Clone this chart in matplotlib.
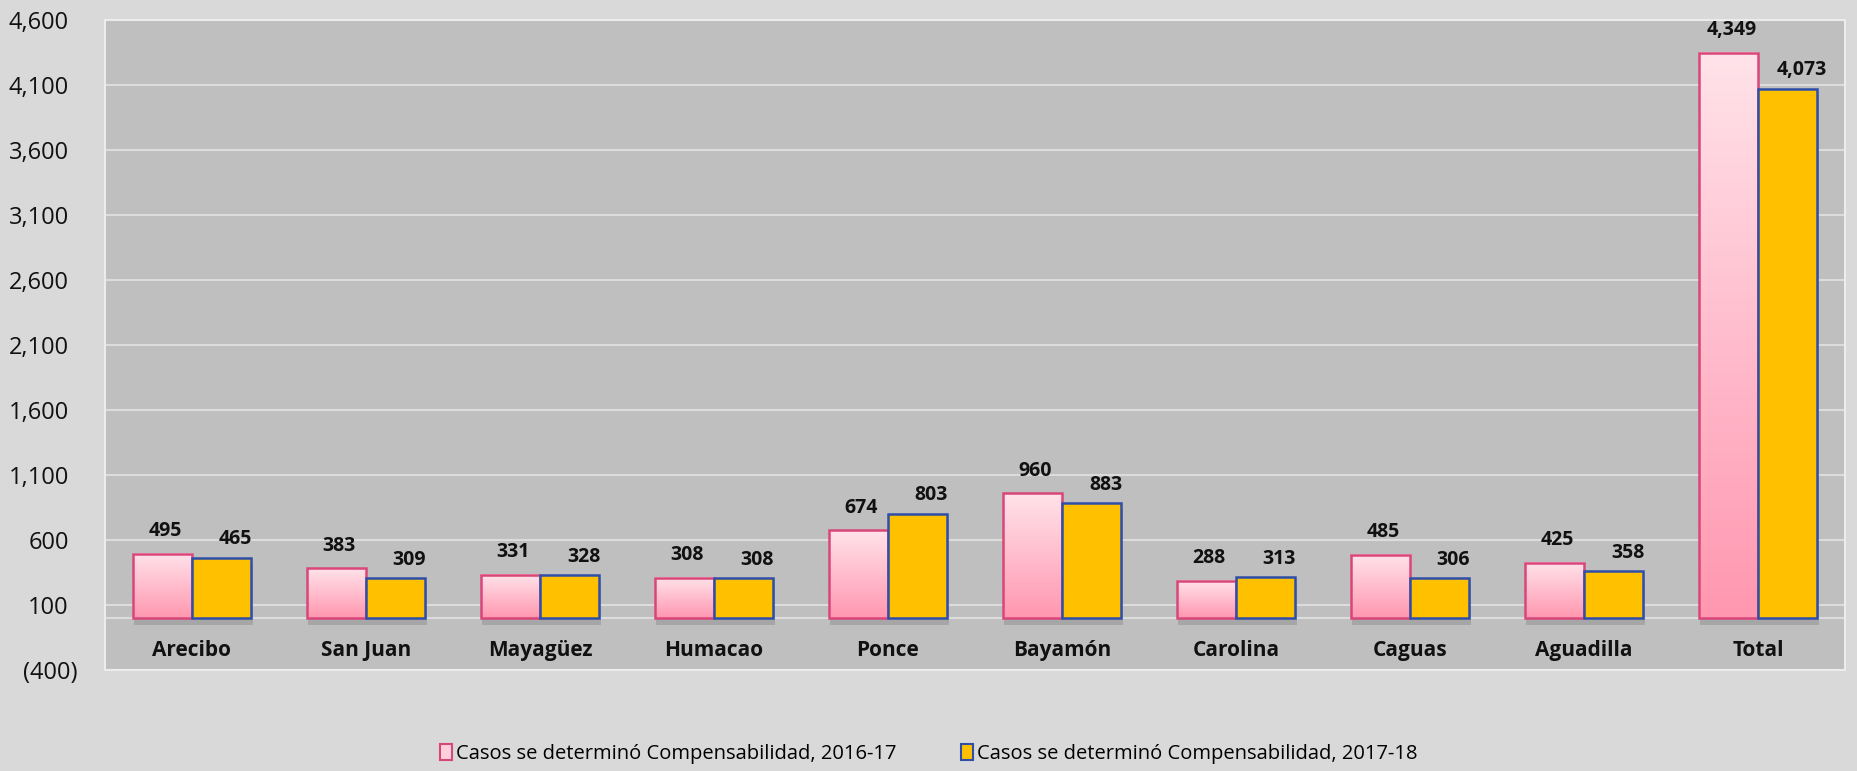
import numpy as np
import matplotlib
matplotlib.use("Agg")
import matplotlib.pyplot as plt
from matplotlib.colors import LinearSegmentedColormap
from matplotlib.patches import Patch
import matplotlib.patheffects as pe

regiones = ["Arecibo", "San Juan", "Mayagüez", "Humacao", "Ponce",
            "Bayamón", "Carolina", "Caguas", "Aguadilla", "Total"]
casos_2016 = [495, 383, 331, 308, 674, 960, 288, 485, 425, 4349]
casos_2017 = [465, 309, 328, 308, 803, 883, 313, 306, 358, 4073]
yticks = list(range(-400, 4601, 500))
leyenda = ["Casos se determinó Compensabilidad, 2016-17",
           "Casos se determinó Compensabilidad, 2017-18"]

plt.rcParams['font.family'] = ['Open Sans', 'DejaVu Sans']

fig = plt.figure(figsize=(18.58, 7.71), dpi=100, facecolor='#d9d9d9')
ax = fig.add_axes([0.0565, 0.131, 0.9365, 0.843])
ax.set_facecolor('#bfbfbf')

x = np.arange(len(regiones))
w = 0.34
pink_cmap = LinearSegmentedColormap.from_list('rosa', ['#ff97b0', '#ffe3ea'])
shadow = [pe.SimplePatchShadow(offset=(1, -5), shadow_rgbFace='#7a7a7a', alpha=0.35), pe.Normal()]

# base pink bars (for shadow), gradient on top, then outline
ax.bar(x - w / 2, casos_2016, w, color='#ffc0cf', zorder=2, path_effects=shadow)
grad = np.linspace(0, 1, 256).reshape(-1, 1)
for xi, v in zip(x, casos_2016):
    ax.imshow(grad, extent=[xi - w, xi, 0, v], origin='lower', aspect='auto',
              cmap=pink_cmap, zorder=2.5, interpolation='bilinear')
ax.bar(x - w / 2, casos_2016, w, facecolor='none', edgecolor='#d9467a', linewidth=1.8, zorder=3)
ax.bar(x + w / 2, casos_2017, w, color='#ffc000', edgecolor='#2f4ea8', linewidth=1.8,
       zorder=3, path_effects=shadow)

for xi, v in zip(x, casos_2016):
    ax.annotate(f"{v:,}", (xi - w / 2, v), xytext=(2, 9), textcoords='offset points',
                ha='center', va='bottom', fontsize=14, fontweight='bold', color='#111111')
for xi, v in zip(x, casos_2017):
    ax.annotate(f"{v:,}", (xi + w / 2, v), xytext=(10, 6), textcoords='offset points',
                ha='center', va='bottom', fontsize=14, fontweight='bold', color='#111111')

for xi, name in zip(x, regiones):
    ax.text(xi, -250, name, ha='center', va='center', fontsize=15, fontweight='bold', color='#111111')

ax.set_xlim(-0.5, len(regiones) - 0.5)
ax.set_ylim(yticks[0], yticks[-1])
ax.set_yticks(yticks)
ax.set_yticklabels([f"({-t:,})" if t < 0 else f"{t:,}" for t in yticks], fontsize=17, color='#111111')
ax.set_xticks([])
ax.tick_params(axis='y', length=0, pad=26)
for lab in ax.get_yticklabels():
    if lab.get_text().startswith('('):
        lab.set_x(0.005)
ax.yaxis.grid(True, color='#dcdcdc', linewidth=1.5)
ax.axhline(0, color='#dcdcdc', linewidth=1.5, zorder=1)
ax.set_axisbelow(True)
for s in ax.spines.values():
    s.set_color('#ececec')
    s.set_linewidth(1.5)

handles = [Patch(facecolor='#ffd0dc', edgecolor='#d9467a', linewidth=1.5),
           Patch(facecolor='#ffc000', edgecolor='#2f4ea8', linewidth=1.5)]
fig.legend(handles, leyenda, loc='center', bbox_to_anchor=(0.5, 0.022), ncol=2, frameon=False,
           fontsize=14.5, handlelength=0.6, handleheight=0.8, handletextpad=0.2, columnspacing=3.2)

fig.savefig('out.png', dpi=100, facecolor=fig.get_facecolor())
